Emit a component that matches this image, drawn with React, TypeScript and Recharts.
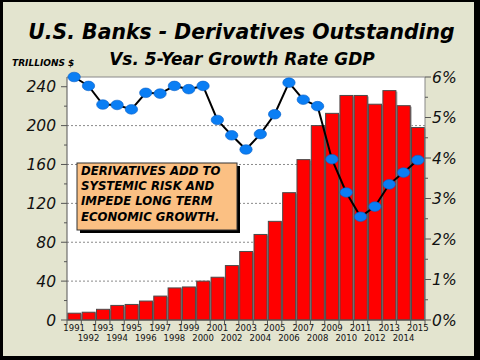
import { ComposedChart, Bar, Line, XAxis, YAxis, ReferenceLine, CartesianGrid } from 'recharts';

const years = [
  '1991', '1992', '1993', '1994', '1995', '1996', '1997', '1998', '1999', '2000',
  '2001', '2002', '2003', '2004', '2005', '2006', '2007', '2008', '2009', '2010',
  '2011', '2012', '2013', '2014', '2015'
];

// trillions of dollars
const derivatives = [
  7, 8, 11, 15, 16, 19.5, 24.6, 33, 34, 40,
  44, 56, 70.5, 88, 101.5, 131, 165, 200, 212.6, 231,
  231, 222, 236, 220.5, 198
];

// 5-year GDP growth rate, %
const gdpGrowth = [
  6.0, 5.78, 5.32, 5.31, 5.2, 5.61, 5.59, 5.78, 5.7, 5.78,
  4.94, 4.56, 4.21, 4.59, 5.08, 5.86, 5.44, 5.28, 3.97, 3.15,
  2.55, 2.8, 3.35, 3.64, 3.95
];

const leftTicks = [0, 20, 40, 60, 80, 100, 120, 140, 160, 180, 200, 220, 240];
const rightTicks = [0, 0.5, 1, 1.5, 2, 2.5, 3, 3.5, 4, 4.5, 5, 5.5, 6];
const gridValues = [40, 80, 120, 160, 200];

const noteLines = [
  'DERIVATIVES ADD TO',
  'SYSTEMIC RISK AND',
  'IMPEDE LONG TERM',
  'ECONOMIC GROWTH.'
];

const data = years.map((year, i) => ({
  year,
  derivatives: derivatives[i],
  gdp: gdpGrowth[i]
}));

const FONT = '"DejaVu Sans", Verdana, sans-serif';
const BAND = 358 / years.length;

const LeftTick = (props: any) => {
  const { x, y, payload } = props;
  const major = payload.value % 40 === 0;
  return (
    <g>
      <line x1={x - (major ? 6 : 3)} x2={x} y1={y} y2={y} stroke="#555" />
      {major && (
        <text x={x - 11} y={y + 5.5} textAnchor="end" fontSize={15.5}
          fontStyle="italic" fontFamily={FONT} fill="#111">
          {payload.value}
        </text>
      )}
    </g>
  );
};

const RightTick = (props: any) => {
  const { x, y, payload } = props;
  const major = Number.isInteger(payload.value);
  return (
    <g>
      <line x1={x} x2={x + (major ? 6 : 3)} y1={y} y2={y} stroke="#555" />
      {major && (
        <text x={x + 7} y={y + 5.5} textAnchor="start" fontSize={15.5}
          fontStyle="italic" fontFamily={FONT} fill="#111">
          {payload.value}%
        </text>
      )}
    </g>
  );
};

const YearTick = (props: any) => {
  const { x, y, payload, index } = props;
  const left = x - BAND / 2;
  return (
    <g>
      <line x1={left} x2={left} y1={y} y2={y + 5} stroke="#555" />
      {index === years.length - 1 && (
        <line x1={x + BAND / 2} x2={x + BAND / 2} y1={y} y2={y + 5} stroke="#555" />
      )}
      <text x={x} y={index % 2 === 0 ? y + 11 : y + 21} textAnchor="middle"
        fontSize={8.5} fontFamily={FONT} fill="#111">
        {payload.value}
      </text>
    </g>
  );
};

const BarShape = (props: any) => {
  const { x, y, width, height } = props;
  if (!height) return null;
  return (
    <g>
      <rect x={x + 1.5} y={y + 1} width={width} height={height - 1} fill="#a8a8a8" />
      <rect x={x} y={y} width={width} height={height} fill="#ff0000" stroke="#4a4a4a" strokeWidth={1} />
    </g>
  );
};

const Dot = (props: any) => {
  const { cx, cy, index } = props;
  return <ellipse key={index} cx={cx} cy={cy} rx={6.2} ry={4.8} fill="#0a7ef4" stroke="#0860c8" strokeWidth={0.6} />;
};

export default function App() {
  return (
    <div style={{ position: 'absolute', left: 0, top: 0, width: 480, height: 360, background: '#e3e4cf' }}>
      <ComposedChart width={480} height={360} data={data}
        margin={{ top: 77, right: 5, bottom: 10, left: 8 }} barCategoryGap="6%">
        <CartesianGrid yAxisId="left" vertical={false} horizontalValues={gridValues}
          fill="#ffffff" stroke="#8a8a8a" strokeDasharray="2 2" />
        <XAxis dataKey="year" height={30} tick={<YearTick />} tickSize={0} tickMargin={0}
          interval={0} axisLine={{ stroke: '#555' }} tickLine={false} />
        <YAxis yAxisId="left" orientation="left" width={59} domain={[0, 250]} ticks={leftTicks}
          tick={<LeftTick />} tickSize={0} tickMargin={0} tickLine={false}
          axisLine={{ stroke: '#555' }} interval={0} />
        <YAxis yAxisId="right" orientation="right" width={50} domain={[0, 6]} ticks={rightTicks}
          tick={<RightTick />} tickSize={0} tickMargin={0} tickLine={false}
          axisLine={{ stroke: '#888' }} interval={0} />
        <ReferenceLine yAxisId="left" y={250} stroke="#888" />
        <Bar yAxisId="left" dataKey="derivatives" shape={<BarShape />} isAnimationActive={false} />
        <Line yAxisId="right" dataKey="gdp" type="linear" stroke="#000" strokeWidth={2}
          dot={<Dot />} activeDot={false} isAnimationActive={false} />
      </ComposedChart>
      <svg width={480} height={360} style={{ position: 'absolute', left: 0, top: 0, pointerEvents: 'none' }}>
        <text x={241.5} y={39} textAnchor="middle" fontSize={20.4} fontWeight="bold"
          fontStyle="italic" fontFamily={FONT} fill="#000">
          U.S. Banks - Derivatives Outstanding
        </text>
        <text x={242} y={65} textAnchor="middle" fontSize={17} fontWeight="bold"
          fontStyle="italic" fontFamily={FONT} fill="#000">
          Vs. 5-Year Growth Rate GDP
        </text>
        <text x={12} y={66} fontSize={9} fontWeight="bold" fontStyle="italic"
          fontFamily={FONT} fill="#000">
          TRILLIONS $
        </text>
        <rect x={80} y={166} width={160} height={67} fill="#000" />
        <rect x={77} y={163} width={160} height={67} fill="#fbc083" stroke="#333" strokeWidth={1} />
        {noteLines.map((t, i) => (
          <text key={t} x={81} y={175 + i * 15.2} fontSize={11.7} fontWeight="bold"
            fontStyle="italic" fontFamily={FONT} fill="#000">
            {t}
          </text>
        ))}
      </svg>
      <div style={{
        position: 'absolute', left: 0, top: 0, width: 480, height: 360, boxSizing: 'border-box',
        borderStyle: 'solid', borderColor: '#000', borderWidth: '2px 6px 4px 3px', pointerEvents: 'none'
      }} />
    </div>
  );
}
